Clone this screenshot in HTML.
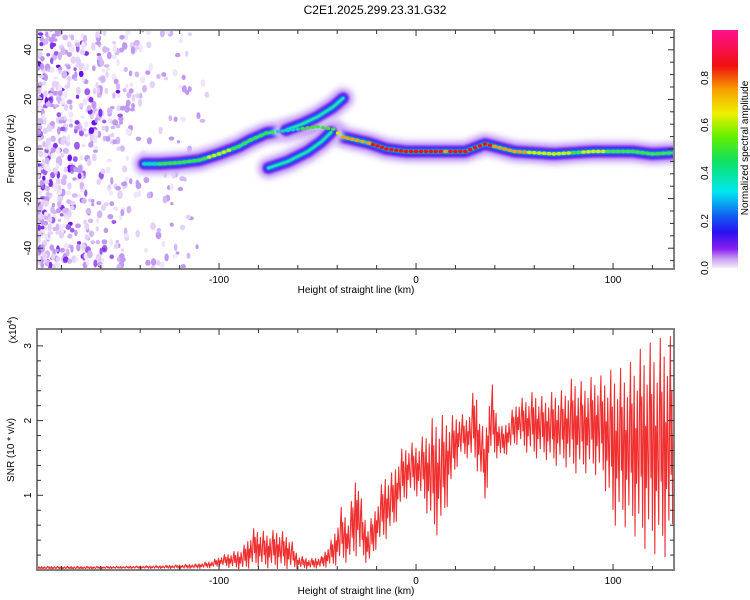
<!DOCTYPE html>
<html><head><meta charset="utf-8"><style>
body{margin:0;background:#fff;}
svg{display:block;font-family:"Liberation Sans",sans-serif;}
</style></head><body>
<svg id="c" width="750" height="600" xmlns="http://www.w3.org/2000/svg">
<defs>
<linearGradient id="cb" x1="0" y1="1" x2="0" y2="0">
<stop offset="0" stop-color="#f4ecfc"/><stop offset="0.04" stop-color="#c89cf0"/><stop offset="0.08" stop-color="#8a20f0"/>
<stop offset="0.15" stop-color="#2a10f0"/><stop offset="0.22" stop-color="#1060f0"/><stop offset="0.32" stop-color="#00e8f0"/>
<stop offset="0.45" stop-color="#10e060"/><stop offset="0.55" stop-color="#60f000"/><stop offset="0.65" stop-color="#f0f000"/>
<stop offset="0.75" stop-color="#f8a000"/><stop offset="0.85" stop-color="#f01010"/><stop offset="1" stop-color="#ff1090"/>
</linearGradient>
<filter id="b1" filterUnits="userSpaceOnUse" x="0" y="0" width="750" height="600"><feGaussianBlur stdDeviation="3"/></filter>
<filter id="b2" filterUnits="userSpaceOnUse" x="0" y="0" width="750" height="600"><feGaussianBlur stdDeviation="1.2"/></filter>
<clipPath id="cp1"><rect x="37" y="30" width="637" height="239"/></clipPath>
<clipPath id="cp2"><rect x="37" y="329" width="637" height="241"/></clipPath>
</defs>
<text x="375" y="14" text-anchor="middle" font-size="12">C2E1.2025.299.23.31.G32</text>
<g id="spec" clip-path="url(#cp1)"></g>
<g id="snr" clip-path="url(#cp2)"></g>
<g id="axes"></g>
<rect x="712" y="30" width="26" height="238" fill="url(#cb)"/>
<g font-size="10">
<text transform="translate(708,268) rotate(-90)" text-anchor="middle">0.0</text>
<text transform="translate(708,221) rotate(-90)" text-anchor="middle">0.2</text>
<text transform="translate(708,173) rotate(-90)" text-anchor="middle">0.4</text>
<text transform="translate(708,125) rotate(-90)" text-anchor="middle">0.6</text>
<text transform="translate(708,78) rotate(-90)" text-anchor="middle">0.8</text>
</g>
<text transform="translate(748,148) rotate(-90)" text-anchor="middle" font-size="10">Normalized spectral amplitude</text>
<text x="356" y="293" text-anchor="middle" font-size="10">Height of straight line (km)</text>
<text x="356" y="594" text-anchor="middle" font-size="10">Height of straight line (km)</text>
<text transform="translate(14,149) rotate(-90)" text-anchor="middle" font-size="10">Frequency (Hz)</text>
<text transform="translate(14,450) rotate(-90)" text-anchor="middle" font-size="10">SNR (10 * v/v)</text>
<text transform="translate(16,330) rotate(-90)" text-anchor="middle" font-size="10">(x10<tspan dy="-4" font-size="7">4</tspan><tspan dy="4">)</tspan></text>
</svg>
<script>
// ---- data ----
const ridgeKm   = [-138,-130,-120,-110,-100,-90,-84,-76,-70,-60,-50,-42,-37,-30,-24,-15,-5,5,15,25,35,40,50,60,70,80,90,100,110,120,131];
const ridgeHz   = [-6,-6,-5.5,-4.5,-2,1,3.6,6.4,7,8,9,8,4.8,3.5,2.4,0,-1,-1,-1,-1,2,1,-1,-1.5,-2,-1.5,-1,-1,-1,-2,-1.5];
const ridgeAmp  = [0.4,0.55,0.55,0.6,0.65,0.6,0.6,0.55,0.5,0.5,0.55,0.6,0.75,0.75,0.8,0.85,0.85,0.85,0.8,0.85,0.85,0.8,0.75,0.7,0.7,0.6,0.65,0.6,0.6,0.55,0.5];
const upperKm   = [-66,-58,-50,-42,-37];
const upperHz   = [7.6,10,13,17,20.5];
const lowerKm   = [-75,-65,-55,-48,-43];
const lowerHz   = [-7.7,-5,-1,3,6.8];
const snrKm   = [-192,-170,-150,-130,-112,-104,-98,-92,-88,-82,-76,-70,-64,-60,-54,-48,-42,-38,-34,-30,-27,-24,-20,-16,-12,-8,-4,0,4,9,13,17,22,26,30,33,35,38,41,44,48,52,55,60,65,70,75,80,85,90,95,100,105,110,115,120,124,128,131];
const snrHigh = [0.05,0.05,0.05,0.06,0.08,0.12,0.2,0.25,0.3,0.57,0.5,0.55,0.45,0.2,0.15,0.18,0.45,0.84,0.7,1.42,0.8,0.6,0.9,1.3,1.3,1.6,1.7,1.7,1.8,2.07,2.07,2.05,2.1,2.05,2.5,2.0,1.8,2.6,2.1,1.9,2.1,2.3,2.3,2.4,2.3,2.4,2.4,2.6,2.5,2.6,2.6,2.7,2.7,2.8,3.0,3.05,3.1,3.2,3.0];
const snrLow  = [0.01,0.01,0.02,0.02,0.02,0.03,0.05,0.02,0.0,0.05,0.03,0.02,0.01,0.02,0.02,0.03,0.05,0.1,0.1,0.2,0.15,0.05,0.3,0.4,0.5,0.8,1.0,1.0,0.9,0.45,0.5,1.0,1.5,1.5,1.4,1.2,0.87,1.5,1.5,1.5,1.6,1.7,1.6,1.5,1.5,1.4,1.4,1.3,1.3,1.3,1.2,0.6,0.6,0.5,0.3,0.25,0.15,0.2,0.4];
const xTicks = [-100,0,100];
const fTicks = [-40,-20,0,20,40];
const sTicks = [1,2,3];
// ---- scales ----
const X=v=>37+(v+192.4)*1.97;
const YF=v=>149-v*2.48;
const YS=v=>570-v*74.7;
const NS='http://www.w3.org/2000/svg';
function mk(tag,attrs,parent){const e=document.createElementNS(NS,tag);for(const k in attrs)e.setAttribute(k,attrs[k]);parent.appendChild(e);return e;}
const spec=document.getElementById('spec');
// background noise texture (deterministic)
let seed=7;function rnd(){seed=(seed*16807)%2147483647;return seed/2147483647;}
const cols=['#f0e6fc','#e4d2fa','#d4b6f6','#c09af2','#9c5cee','#8030ec','#6a10ea'];
for(let i=0;i<750;i++){
  const km=-192+rnd()*rnd()*90;const hz=-48+rnd()*96;
  let k=Math.floor(rnd()*(0.45+0.55*rnd())*7);
  if(km>-150)k=Math.min(k,3);
  const d=mk('ellipse',{cx:X(km),cy:YF(hz),rx:1.6+rnd()*1.4,ry:1.6+rnd()*2.6,fill:cols[k]},spec);
  
  
}
function pathFrom(kms,hzs){return kms.map((k,i)=>(i?'L':'M')+X(k).toFixed(1)+','+YF(hzs[i]).toFixed(1)).join(' ');}
const layers=[[24,'#e6d8fa','b1'],[16,'#b080f2','b1'],[11,'#6a10ee','b2'],[7,'#2030f0','b2'],[4.5,'#10b8f0','b2'],[2.5,'#20e0b0',null]];
[[ridgeKm,ridgeHz,'ridge'],[upperKm,upperHz,'upper-branch'],[lowerKm,lowerHz,'lower-branch']].forEach(([k,h,n])=>{
  layers.forEach(([w,c,f])=>{
    const p=mk('path',{d:pathFrom(k,h),stroke:c,'stroke-width':w,fill:'none','stroke-linecap':'round','stroke-linejoin':'round'},spec);
    if(f)p.setAttribute('filter','url(#'+f+')');
    
    
  });
});
function ampCol(a){return a>0.8?'#f01010':a>0.72?'#f8a000':a>0.62?'#d0f000':a>0.5?'#40e040':'#10d0d0';}
for(let i=0;i<ridgeKm.length-1;i++){
  const n=Math.max(2,Math.round((ridgeKm[i+1]-ridgeKm[i])/2.5));
  for(let j=0;j<n;j+=1){
    const t=j/n,km=ridgeKm[i]+(ridgeKm[i+1]-ridgeKm[i])*t,hz=ridgeHz[i]+(ridgeHz[i+1]-ridgeHz[i])*t,a=ridgeAmp[i]+(ridgeAmp[i+1]-ridgeAmp[i])*t;
    const c=mk('ellipse',{cx:X(km),cy:YF(hz),rx:2.4,ry:1.8,fill:ampCol(a)},spec);
    
    
  }
}
// SNR trace between low/high envelopes (texture pattern)
const snr=document.getElementById('snr');
const pat=[1,0.35,0.75,0.1,0.55,0.9,0.0,0.6,0.3,0.8,0.45,0.15,0.7];
let d='';let step=0;
for(let i=0;i<snrKm.length-1;i++){
  const n=Math.max(2,Math.round((snrKm[i+1]-snrKm[i])*2.6));
  for(let j=0;j<n;j++){
    const t=j/n,km=snrKm[i]+(snrKm[i+1]-snrKm[i])*t;
    const hi=snrHigh[i]+(snrHigh[i+1]-snrHigh[i])*t,lo=snrLow[i]+(snrLow[i+1]-snrLow[i])*t;
    const v=lo+(hi-lo)*pat[step%pat.length];
    d+=(step?'L':'M')+X(km).toFixed(1)+','+YS(v).toFixed(1);step++;
  }
}
const ln=mk('path',{d:d,stroke:'#f03030','stroke-width':1.1,fill:'none','stroke-linejoin':'round'},snr);


// axes
const ax=document.getElementById('axes');
function frame(y0,y1,name){
  const r=mk('rect',{x:37,y:y0,width:637,height:y1-y0,fill:'none',stroke:'#808080','stroke-width':2},ax);
  
  
  for(let k=-180;k<=130;k+=20){
    const x=X(k),big=k%100==0;
    mk('line',{x1:x,x2:x,y1:y1,y2:y1-(big?6:4),stroke:'#333'},ax);
    mk('line',{x1:x,x2:x,y1:y0,y2:y0+(big?6:4),stroke:'#333'},ax);
  }
  xTicks.forEach(v=>{const t=mk('text',{x:X(v),y:y1+14,'text-anchor':'middle','font-size':10},ax);t.textContent=v;
    });
}
frame(30,269,'top-plot-frame');frame(329,570,'bottom-plot-frame');
for(let f=-45;f<=45;f+=5){const y=YF(f),big=f%20==0;
  mk('line',{x1:37,x2:37+(big?6:4),y1:y,y2:y,stroke:'#333'},ax);mk('line',{x1:674,x2:674-(big?6:4),y1:y,y2:y,stroke:'#333'},ax);}
fTicks.forEach(v=>{const t=mk('text',{transform:`translate(31,${YF(v)}) rotate(-90)`,'text-anchor':'middle','font-size':10},ax);t.textContent=v;
  });
for(let s=0.2;s<3.2;s+=0.2){const y=YS(s),big=Math.abs(s-Math.round(s))<0.01;
  mk('line',{x1:37,x2:37+(big?6:4),y1:y,y2:y,stroke:'#333'},ax);mk('line',{x1:674,x2:674-(big?6:4),y1:y,y2:y,stroke:'#333'},ax);}
sTicks.forEach(v=>{const t=mk('text',{transform:`translate(31,${YS(v)}) rotate(-90)`,'text-anchor':'middle','font-size':10},ax);t.textContent=v;
  });
</script>
</body></html>
